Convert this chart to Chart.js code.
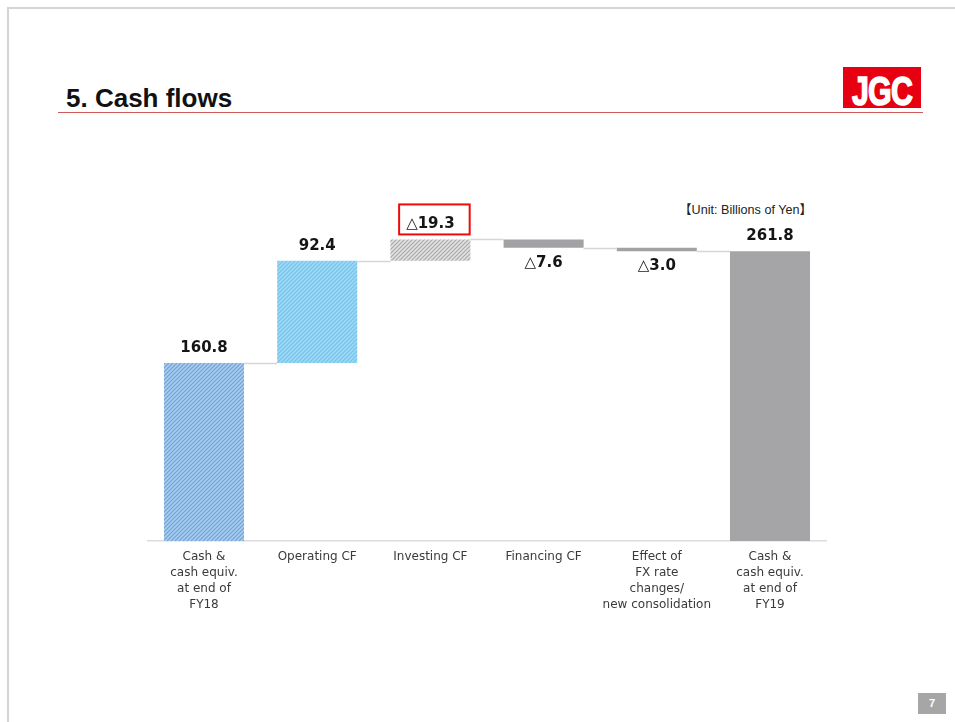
<!DOCTYPE html>
<html>
<head>
<meta charset="utf-8">
<script src="https://cdn.jsdelivr.net/npm/chart.js@4.4.1/dist/chart.umd.min.js"></script>
<style>
  html, body { margin: 0; padding: 0; background: #fff; }
  #slide { position: relative; width: 955px; height: 722px; overflow: hidden; background: #fff; }
  #frame { position: absolute; left: 7px; top: 7px; right: -5px; bottom: -5px;
           border-top: 2px solid #d4d4d4; border-left: 2px solid #d4d4d4; }
  #title { position: absolute; left: 66px; top: 83px; font: bold 26px "Liberation Sans", Arial, sans-serif; color: #111; }
  #rule { position: absolute; left: 58px; top: 112px; width: 865px; height: 0; border-top: 1.5px solid #cf5a5a; }
  #logo { position: absolute; left: 843px; top: 67px; width: 78px; height: 41px; background: #e60012; overflow: hidden; }
  #logo span { position: absolute; left: 39px; top: 1px; font: bold 41px "Liberation Sans", Arial, sans-serif; color: #fff;
               transform: translateX(-50%) scaleX(0.74); white-space: nowrap; letter-spacing: -1px;
               -webkit-text-stroke: 1.6px #fff; }
  #unit { position: absolute; left: 679px; top: 199px; font: 12.6px "Liberation Sans", "Noto Sans CJK JP", sans-serif; color: #222; white-space: nowrap; }
  #page { position: absolute; left: 918px; top: 693px; width: 28px; height: 21px; background: #a6a6a6;
          color: #fff; font: bold 11px "Liberation Sans", Arial, sans-serif; text-align: center; line-height: 21px; }
  canvas { position: absolute; left: 0; top: 0; }
</style>
</head>
<body>
<div id="slide">
  <div id="frame"></div>
  <div id="title">5. Cash flows</div>
  <div id="rule"></div>
  <div id="logo"><span>JGC</span></div>
  <div id="unit">【Unit: Billions of Yen】</div>
  <canvas id="cashChart" width="955" height="722"></canvas>
  <div id="page">7</div>
</div>
<script>
// categorias (eixo x), em várias linhas como no slide
const categories = [
  ['Cash &', 'cash equiv.', 'at end of', 'FY18'],
  ['Operating CF'],
  ['Investing CF'],
  ['Financing CF'],
  ['Effect of', 'FX rate', 'changes/', 'new consolidation'],
  ['Cash &', 'cash equiv.', 'at end of', 'FY19']
];
const openingBalance = 160.8;
// variações na ordem em que o slide as desenha (investing aparece subindo)
const stepChanges = [92.4, 19.3, -7.6, -3.0];
const closingBalance = 261.8;
const valueLabels = ['160.8', '92.4', '△19.3', '△7.6', '△3.0', '261.8'];
const highlightedIndex = 2;

// monta as barras flutuantes do waterfall
const ranges = [[0, openingBalance]];
const levels = [openingBalance];
const stepSign = [1];
let nivel = openingBalance;
stepChanges.forEach(d => {
  const next = nivel + d;
  ranges.push([Math.min(nivel, next), Math.max(nivel, next)]);
  levels.push(next);
  stepSign.push(d >= 0 ? 1 : -1);
  nivel = next;
});
ranges.push([0, closingBalance]);
levels.push(closingBalance);
stepSign.push(1);

function hatch(bg, line) {
  const c = document.createElement('canvas');
  c.width = 4; c.height = 4;
  const g = c.getContext('2d');
  g.fillStyle = bg;
  g.fillRect(0, 0, 4, 4);
  g.strokeStyle = line;
  g.lineWidth = 1.2;
  g.beginPath();
  g.moveTo(0, 4); g.lineTo(4, 0);
  g.moveTo(-1, 1); g.lineTo(1, -1);
  g.moveTo(3, 5); g.lineTo(5, 3);
  g.stroke();
  return g.createPattern(c, 'repeat');
}

const barColors = [
  hatch('#a8cdef', '#6da2d6'),
  hatch('#9ed9f6', '#6fc3ec'),
  hatch('#e2e2e2', '#a8a8a8'),
  '#a2a2a5',
  '#a2a2a5',
  '#a5a5a8'
];

// conectores e rótulos de valor
const waterfallExtras = {
  id: 'waterfallExtras',
  afterDatasetsDraw(chart) {
    const ctx = chart.ctx;
    const y = chart.scales.y;
    const bars = chart.getDatasetMeta(0).data;
    ctx.save();
    ctx.strokeStyle = '#d6d6d6';
    ctx.lineWidth = 1.5;
    for (let i = 0; i < bars.length - 1; i++) {
      const py = Math.round(y.getPixelForValue(levels[i])) + 0.5;
      ctx.beginPath();
      ctx.moveTo(bars[i].x + bars[i].width / 2, py);
      ctx.lineTo(bars[i + 1].x - bars[i + 1].width / 2, py);
      ctx.stroke();
    }
    ctx.font = 'bold 15px "DejaVu Sans", Verdana, sans-serif';
    ctx.fillStyle = '#151515';
    ctx.textAlign = 'center';
    ctx.textBaseline = 'middle';
    bars.forEach((bar, i) => {
      const top = y.getPixelForValue(ranges[i][1]);
      const bottom = y.getPixelForValue(ranges[i][0]);
      const ty = stepSign[i] > 0 ? top - 15 : bottom + 15;
      ctx.fillText(valueLabels[i], bar.x, ty);
      if (i === highlightedIndex) {
        const w = ctx.measureText(valueLabels[i]).width;
        ctx.strokeStyle = '#f00a0a';
        ctx.lineWidth = 2;
        ctx.strokeRect(bar.x - w / 2 - 7, ty - 20, w + 22, 30);
      }
    });
    ctx.restore();
  }
};

new Chart(document.getElementById('cashChart'), {
  type: 'bar',
  data: {
    labels: categories,
    datasets: [{
      data: ranges,
      backgroundColor: barColors,
      borderWidth: 0,
      barPercentage: 0.707,
      categoryPercentage: 1
    }]
  },
  options: {
    responsive: false,
    animation: false,
    layout: { padding: { left: 147.4, right: 128.4, top: 209, bottom: 101 } },
    plugins: { legend: { display: false }, tooltip: { enabled: false } },
    scales: {
      x: {
        grid: { display: false, drawTicks: false },
        border: { display: true, color: '#dcdcdc', width: 1.5 },
        ticks: {
          color: '#3a3a3a',
          padding: 8,
          autoSkip: false,
          maxRotation: 0,
          font: { family: '"DejaVu Sans", Verdana, sans-serif', size: 12, lineHeight: 1.33 }
        },
        afterFit(scale) { scale.height = 80; }
      },
      y: { display: false, min: 0, max: 300 }
    }
  },
  plugins: [waterfallExtras]
});
</script>
</body>
</html>
